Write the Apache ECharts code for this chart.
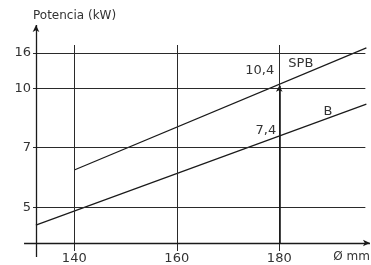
<!DOCTYPE html>
<html>
<head>
<meta charset="utf-8">
<script src="https://cdn.jsdelivr.net/npm/echarts@6/dist/echarts.min.js"></script>
<style>html,body{margin:0;padding:0;background:#fff}#c{width:371px;height:265px}</style>
</head>
<body>
<div id="c"></div>
<script>
// ---- data ----
const xTicks = [140, 160, 180];
const yTicks = [5, 7, 10, 16];           // kW tick labels (non-uniform schematic scale)
const spbX = [140, 197];
const spbKW = [6.25, 16.9];
const bX = [132.5, 197];
const bKW = [4.4, 9.2];
const markX = 180;
const spbAtMark = 10.4;
const bAtMark = 7.4;

// ---- schematic kW scale: tick kW -> axis position ----
const yTickPos = [0, 1, 2, 2.59];
function pos(v) {
  let i = 0;
  if (v > yTicks[yTicks.length - 1]) i = yTicks.length - 2;
  else { while (i < yTicks.length - 2 && v > yTicks[i + 1]) i++; }
  const t = (v - yTicks[i]) / (yTicks[i + 1] - yTicks[i]);
  return yTickPos[i] + t * (yTickPos[i + 1] - yTickPos[i]);
}
function lineAt(xs, ks, x) {
  const p0 = pos(ks[0]), p1 = pos(ks[1]);
  return p0 + (x - xs[0]) / (xs[1] - xs[0]) * (p1 - p0);
}

const FONT = 'DejaVu Sans';
const TXT = '#333';
const LINE = '#1a1a1a';
const GRID = '#2a2a2a';

const X_MIN = 129.8, X_MAX = 197.9, Y_MIN = -0.887, Y_MAX = 3.18;
const xAxisPos = -0.602, yAxisX = 132.53;
const hGridFrom = 131.95, hGridTo = 196.8;
const vGridBottom = -0.736, vGridTop = 2.726;
const yAxisBottom = -0.837, yAxisTop = 3.062;

const markLines = [];
yTicks.forEach(v => {
  markLines.push([
    { coord: [hGridFrom, pos(v)], lineStyle: { color: GRID, width: 1, type: 'solid' },
      label: { show: true, position: 'start', formatter: String(v), distance: 2,
               color: TXT, fontSize: 13, fontFamily: FONT } },
    { coord: [hGridTo, pos(v)] }
  ]);
});
xTicks.forEach(v => {
  markLines.push([
    { coord: [v, vGridBottom], lineStyle: { color: GRID, width: 1, type: 'solid' },
      label: { show: true, position: 'start', formatter: String(v), distance: 1,
               color: TXT, fontSize: 13, fontFamily: FONT } },
    { coord: [v, vGridTop] }
  ]);
});
// axes
markLines.push([
  { coord: [130.2, xAxisPos], symbol: 'none', lineStyle: { color: LINE, width: 1.3, type: 'solid' }, label: { show: false } },
  { coord: [197.7, xAxisPos], symbol: 'arrow', symbolSize: [5, 7] }
]);
markLines.push([
  { coord: [yAxisX, yAxisBottom], symbol: 'none', lineStyle: { color: LINE, width: 1.3, type: 'solid' }, label: { show: false } },
  { coord: [yAxisX, yAxisTop], symbol: 'arrow', symbolSize: [5, 7] }
]);
// reading arrow at 180
markLines.push([
  { coord: [markX, xAxisPos], symbol: 'none', lineStyle: { color: LINE, width: 1.6, type: 'solid' }, label: { show: false } },
  { coord: [markX, pos(spbAtMark)], symbol: 'arrow', symbolSize: [5, 6] }
]);

const labelStyle = { color: TXT, fontSize: 13, fontFamily: FONT };
const markPoints = [
  { coord: [markX, pos(spbAtMark)], symbolSize: 0,
    label: Object.assign({ show: true, formatter: '10,4', position: 'left', distance: 5, offset: [0, -15] }, labelStyle) },
  { coord: [markX, pos(bAtMark)], symbolSize: 0,
    label: Object.assign({ show: true, formatter: '7,4', position: 'left', distance: 3, offset: [0, -9] }, labelStyle) },
  { coord: [184.2, lineAt(spbX, spbKW, 184.2)], symbolSize: 0,
    label: Object.assign({ show: true, formatter: 'SPB', position: 'inside', offset: [0, -12] }, labelStyle) },
  { coord: [189.5, lineAt(bX, bKW, 189.5)], symbolSize: 0,
    label: Object.assign({ show: true, formatter: 'B', position: 'inside', offset: [0, -7] }, labelStyle) }
];

const chart = echarts.init(document.getElementById('c'), null, { renderer: 'canvas' });
chart.setOption({
  animation: false,
  backgroundColor: '#fff',
  grid: { left: 22, right: 0, top: 18, bottom: 5 },
  xAxis: { type: 'value', min: X_MIN, max: X_MAX, show: false },
  yAxis: { type: 'value', min: Y_MIN, max: Y_MAX, show: false },
  graphic: [
    { type: 'text', left: 33, top: 10, style: { text: 'Potencia (kW)', fill: TXT, font: '12px "' + FONT + '"' } },
    { type: 'text', right: 1, top: 251, style: { text: 'Ø mm', fill: TXT, font: '12px "' + FONT + '"' } }
  ],
  series: [
    {
      type: 'line', name: 'SPB', silent: true, symbol: 'none', clip: false,
      data: spbX.map((x, i) => [x, pos(spbKW[i])]),
      lineStyle: { color: LINE, width: 1.2 },
      markLine: { silent: true, symbol: ['none', 'none'], label: { show: false }, data: markLines },
      markPoint: { silent: true, data: markPoints }
    },
    {
      type: 'line', name: 'B', silent: true, symbol: 'none', clip: false,
      data: bX.map((x, i) => [x, pos(bKW[i])]),
      lineStyle: { color: LINE, width: 1.2 }
    }
  ]
});
</script>
</body>
</html>
